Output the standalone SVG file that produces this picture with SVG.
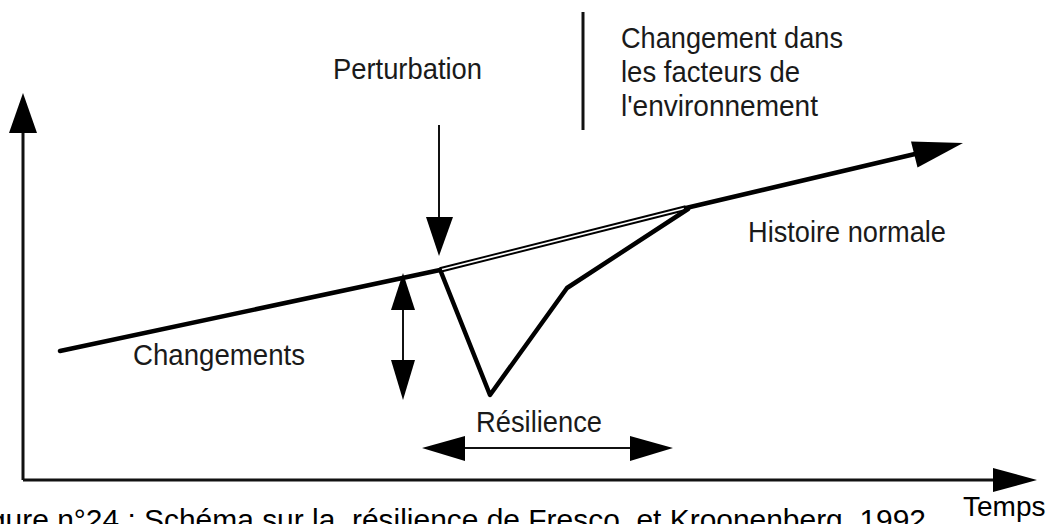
<svg xmlns="http://www.w3.org/2000/svg" width="1056" height="524" viewBox="0 0 1056 524">
<style>
text{font-family:"Liberation Sans",Arial,sans-serif;fill:#1a1a1a;font-size:29px}
.ax{stroke:#111;stroke-width:3;fill:none}
.thin{stroke:#111;stroke-width:2;fill:none}
.thick{stroke:#000;stroke-width:4.5;fill:none;stroke-linejoin:round;stroke-linecap:round}
.head{fill:#000;stroke:none}
</style>
<rect width="1056" height="524" fill="#fff"/>
<g id="connectors">
  <line class="ax" x1="23" y1="480" x2="23" y2="125"/>
  <polygon class="head" points="23,93 9,133 37,133"/>
  <line class="ax" x1="23" y1="480" x2="1000" y2="480"/>
  <polygon class="head" points="1037,480 993,468 993,492"/>
  <polyline class="thick" points="60,351 440,270"/>
  <line x1="440" y1="270" x2="686" y2="208" stroke="#000" stroke-width="5.5"/>
  <line x1="442" y1="269.5" x2="684" y2="208.5" stroke="#fff" stroke-width="1.8"/>
  <polyline class="thick" points="686,208 915,154"/>
  <polygon class="head" points="963,143 911,141.5 917.5,167.5"/>
  <polyline class="thick" points="441,272 490,395 567,288 688,209"/>
  <line class="thin" x1="439" y1="125" x2="439" y2="220"/>
  <polygon class="head" points="439,256 426,217 453,217"/>
  <line class="ax" x1="583" y1="12" x2="583" y2="130"/>
  <line class="thin" x1="403" y1="305" x2="403" y2="365"/>
  <polygon class="head" points="403,273 391,310 415,310"/>
  <polygon class="head" points="403,400 391,360 415,360"/>
  <line class="thin" x1="460" y1="448" x2="635" y2="448"/>
  <polygon class="head" points="422,448 465,436 465,461"/>
  <polygon class="head" points="673,448 630,436 630,461"/>
</g>
<g id="label-perturbation"><text x="333" y="79" textLength="149" lengthAdjust="spacingAndGlyphs">Perturbation</text></g>
<g id="label-environnement">
  <text x="621" y="48" textLength="222" lengthAdjust="spacingAndGlyphs">Changement dans</text>
  <text x="621" y="82" textLength="179" lengthAdjust="spacingAndGlyphs">les facteurs de</text>
  <text x="621" y="116" textLength="197" lengthAdjust="spacingAndGlyphs">l'environnement</text>
</g>
<g id="label-histoire"><text x="748" y="242" textLength="198" lengthAdjust="spacingAndGlyphs">Histoire normale</text></g>
<g id="label-changements"><text x="133" y="365" textLength="172" lengthAdjust="spacingAndGlyphs">Changements</text></g>
<g id="label-resilience"><text x="476" y="432" textLength="126" lengthAdjust="spacingAndGlyphs">Résilience</text></g>
<g id="label-temps"><text x="963" y="516" style="fill:#000;font-size:28px">Temps</text></g>
<g id="caption"><text x="-36" y="530" xml:space="preserve" style="fill:#000;white-space:pre" textLength="962" lengthAdjust="spacingAndGlyphs">Figure n°24 : Schéma sur la  résilience de Fresco  et Kroonenberg, 1992</text></g>
</svg>
